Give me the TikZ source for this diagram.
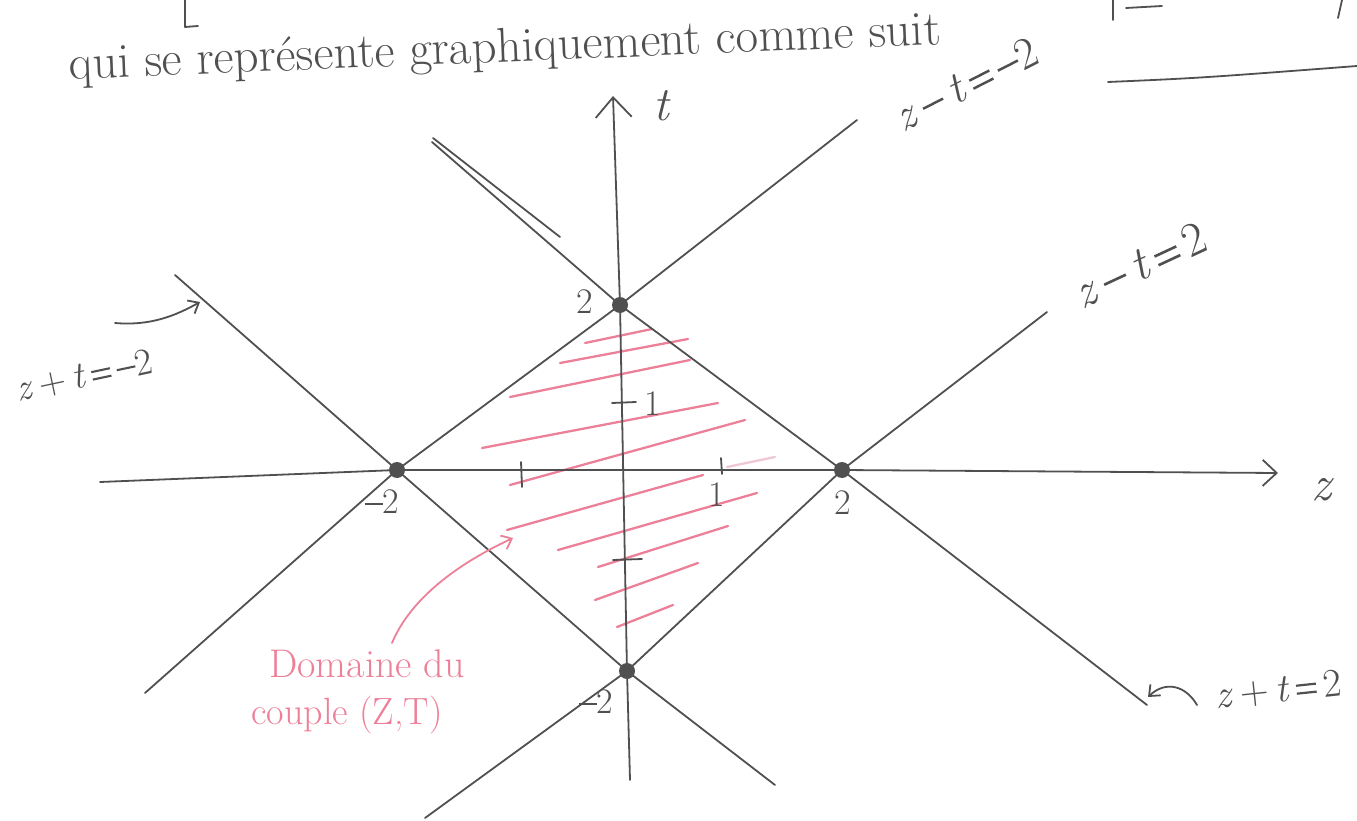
\documentclass[tikz,border=0pt]{standalone}
\usetikzlibrary{arrows.meta}
\definecolor{pencil}{RGB}{80,80,80}
\definecolor{hatch}{RGB}{236,128,152}
\definecolor{hatchlight}{RGB}{240,200,212}
\newcommand{\zz}{\textit{z}}
\newcommand{\ttv}{\textit{t}}
\newcommand{\mn}{\raisebox{0.24em}{\rule{0.5em}{0.055em}}}
\newcommand{\eqs}{\raisebox{0.13em}{\rule{0.5em}{0.055em}}\llap{\raisebox{0.33em}{\rule{0.5em}{0.055em}}}}
\begin{document}
\begin{tikzpicture}[x=1pt,y=-1pt,
  ink/.style={draw=pencil,line width=1.8pt,line cap=round,line join=round},
  hat/.style={draw=hatch,line width=2.3pt,line cap=round},
  vdot/.style={circle,fill=pencil,inner sep=0pt,minimum size=16pt},
  num/.style={text=pencil,inner sep=0pt,font=\fontsize{36}{42}\selectfont},
  smalltip/.style={-{Straight Barb[length=9pt,width=15pt,line width=1.8pt]}}]
\useasboundingbox (0,0) rectangle (1357,821);

% top fragments of the page
\draw[ink] (185,0) -- (185,27) -- (198,26);
\draw[ink] (1113,0) -- (1113,20);
\draw[ink] (1126,8) -- (1162,6);
\draw[ink] (1342,0) -- (1338,18);
\draw[ink] (1108,82) .. controls (1200,78) .. (1357,66);

\node[text=pencil,inner sep=0pt,font=\fontsize{49}{56}\selectfont,rotate=2.3] (hdr) at (505,50) {qui se représente graphiquement comme suit};

% key points
\coordinate (T) at (620,305);
\coordinate (L) at (397,470);
\coordinate (R) at (842,470);
\coordinate (B) at (627,671);
% ends of the four lines
\coordinate (a1) at (145,693); \coordinate (a2) at (857,120);
\coordinate (b1) at (432,142); \coordinate (b2) at (1147,705);
\coordinate (c1) at (1047,312); \coordinate (c2) at (425,818);
\coordinate (d1) at (175,275); \coordinate (d2) at (775,785);
% axis ends
\coordinate (xl) at (100,482); \coordinate (xr) at (1278,473);
\coordinate (yb) at (630,780); \coordinate (yt) at (613,96);

% hatching
\draw[hat] (585,343) -- (652,329);
\draw[hat] (560,363) -- (688,339);
\draw[hat] (510,397) -- (690,360);
\draw[hat] (482,448) -- (718,403);
\draw[hat] (510,485) -- (745,420);
\draw[hat] (507,530) -- (703,475);
\draw[hat] (558,550) -- (757,493);
\draw[hat] (598,567) -- (728,526);
\draw[hat] (595,600) -- (698,563);
\draw[hat] (617,627) -- (673,605);
\draw[draw=hatchlight,line width=2.3pt,line cap=round] (727,467) -- (775,457);

% lines
\draw[ink] (a1) -- (L) -- (T) -- (a2);
\draw[ink] (b1) -- (T) -- (R) -- (b2);
\draw[ink] (c1) -- (R) -- (B) -- (c2);
\draw[ink] (d1) -- (L) -- (B) -- (d2);
\draw[ink] (433,138) -- (560,237);

% axes
\draw[ink,-{Straight Barb[length=14pt,width=26pt,line width=1.8pt]}] (xl) -- (L) -- (R) -- (xr);
\draw[ink,-{Straight Barb[length=20pt,width=36pt,line width=1.8pt]}] (yb) -- (B) -- (T) -- (yt);
\node[text=pencil,inner sep=0pt,font=\fontsize{50}{56}\selectfont] (zlab) at (1323,490) {\zz};
\node[text=pencil,inner sep=0pt,font=\fontsize{48}{54}\selectfont] (tlab) at (662,106) {\ttv};

% ticks
\draw[ink] (612,403) -- (636,402);
\draw[ink] (613,560) -- (642,559);
\draw[ink] (521,462) -- (522,487);
\draw[ink] (721,458) -- (722,474);
\node[num] (t1) at (653,404) {1};
\node[num] (z1) at (717,495) {1};

% vertices
\node[vdot] (vT) at (T) {};
\node[vdot] (vL) at (L) {};
\node[vdot] (vR) at (R) {};
\node[vdot] (vB) at (B) {};
\node[num] (nT) at (585,302) {2};
\node[num] (nL) at (382,502) {\mn2};
\node[num] (nR) at (843,503) {2};
\node[num] (nB) at (596,702) {\mn2};

% line labels
\node[text=pencil,font=\fontsize{45}{50}\selectfont,rotate=27] (e1) at (966,84) {\zz\,\mn\,\ttv\,\eqs\,\mn2};
\node[text=pencil,font=\fontsize{48}{54}\selectfont,rotate=25] (e2) at (1140,265) {\zz\,\mn\,\ttv\,\eqs\,2};
\node[text=pencil,font=\fontsize{38}{44}\selectfont,rotate=12] (e3) at (84,376) {\zz\,+\,\ttv\,\eqs\,\mn2};
\node[text=pencil,font=\fontsize{40}{46}\selectfont,rotate=6] (e4) at (1278,690) {\zz\,+\,\ttv\,\eqs\,2};

\draw[ink,smalltip] (115,323) .. controls (150,326) and (175,316) .. (200,302);
\draw[ink,smalltip] (1197,705) .. controls (1186,686) and (1166,680) .. (1148,697);

% pink annotation
\node[text=hatch,font=\fontsize{40}{46}\selectfont] (dom1) at (367,664) {Domaine du};
\node[text=hatch,font=\fontsize{38}{44}\selectfont] (dom2) at (347,715) {couple (Z,T)};
\coordinate (arrS) at (392,643);
\coordinate (arrE) at (513,538);
\draw[draw=hatch,line width=1.8pt,line cap=round,-{Straight Barb[length=9pt,width=15pt,line width=1.8pt]}] (arrS) .. controls (410,600) and (455,565) .. (arrE);
\end{tikzpicture}
\end{document}
